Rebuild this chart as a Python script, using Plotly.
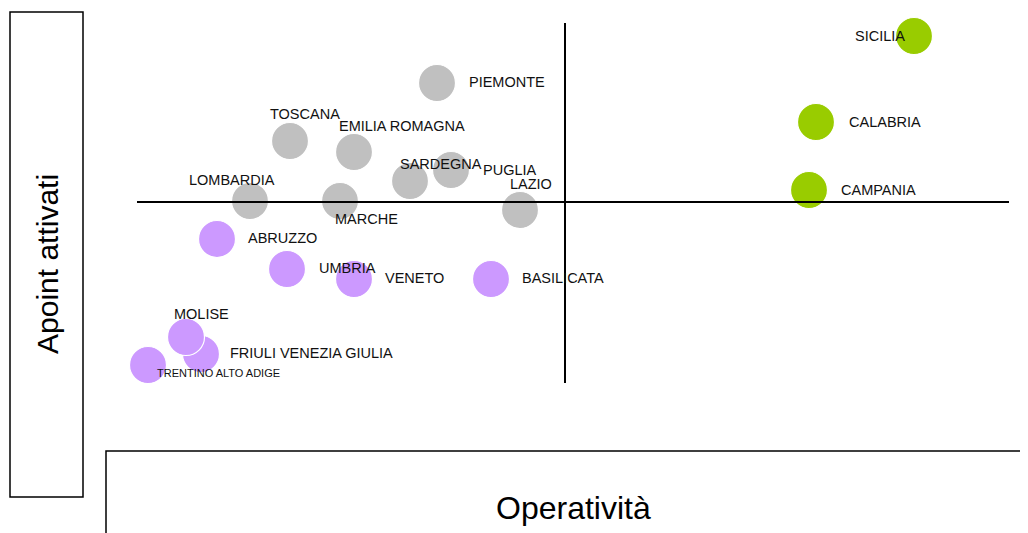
import plotly.graph_objects as go

# ---- data (arbitrary units, no axis scale shown) ----
regions = ["SICILIA", "CALABRIA", "CAMPANIA", "PIEMONTE", "TOSCANA", "EMILIA ROMAGNA",
           "SARDEGNA", "PUGLIA", "LAZIO", "LOMBARDIA", "MARCHE",
           "ABRUZZO", "UMBRIA", "VENETO", "BASILICATA", "FRIULI VENEZIA GIULIA",
           "MOLISE", "TRENTINO ALTO ADIGE"]
operativita = [91.4, 81.6, 80.9, 43.7, 29.0, 35.4, 41.0, 45.1, 52.0, 25.0, 34.0,
               21.7, 28.7, 35.4, 49.1, 20.1, 18.6, 14.8]
apoint_attivati = [49.7, 41.1, 34.3, 45.0, 39.2, 38.1, 35.2, 36.3, 32.3, 33.2, 33.2,
                   29.4, 26.4, 25.4, 25.4, 17.9, 19.6, 16.8]
groups = ["verde"] * 3 + ["grigio"] * 8 + ["viola"] * 7

# reference cross (quadrant dividers)
X_MID = 56.5
Y_MID = 33.1

# ---- styles ----
COLORS = {"verde": "#99cc00", "grigio": "#c0c0c0", "viola": "#cc99ff"}
LABEL_OFFSETS = {  # (dx, dy) in pixels from bubble centre to label left/middle
    "SICILIA": (-61, 0), "CALABRIA": (31, 0), "CAMPANIA": (30, 0),
    "PIEMONTE": (30, -1), "TOSCANA": (-22, -27), "EMILIA ROMAGNA": (-17, -26),
    "SARDEGNA": (-12, -17), "PUGLIA": (30, 0), "LAZIO": (-12, -26),
    "LOMBARDIA": (-63, -21), "MARCHE": (-7, 18), "ABRUZZO": (29, -1),
    "UMBRIA": (30, -1), "VENETO": (29, -1), "BASILICATA": (29, -1),
    "FRIULI VENEZIA GIULIA": (27, -1), "MOLISE": (-14, -23),
    "TRENTINO ALTO ADIGE": (7, 8),
}
SMALL_LABELS = {"TRENTINO ALTO ADIGE"}
FONT = "Liberation Sans, Arial, sans-serif"

# page is 1028x533; the browser body has an 8px margin
PAGE_W, PAGE_H, OFF = 1028, 533, 8
W, H = PAGE_W - OFF, PAGE_H - OFF

fig = go.Figure()

fig.add_trace(go.Scatter(
    x=operativita, y=apoint_attivati, mode="markers",
    marker=dict(size=37, color=[COLORS[g] for g in groups],
                line=dict(color="white", width=1.2), opacity=1),
    text=regions, hoverinfo="text", showlegend=False,
))

# quadrant lines (drawn over the bubbles, as in the original)
fig.add_shape(type="line", xref="x", yref="y", x0=13.7, x1=100.9, y0=Y_MID, y1=Y_MID,
              line=dict(color="black", width=2), layer="above")
fig.add_shape(type="line", xref="x", yref="y", x0=X_MID, x1=X_MID, y0=15.0, y1=51.0,
              line=dict(color="black", width=2), layer="above")

for name, xv, yv in zip(regions, operativita, apoint_attivati):
    dx, dy = LABEL_OFFSETS[name]
    fig.add_annotation(
        x=xv, y=yv, xref="x", yref="y", text=name, showarrow=False,
        xanchor="left", yanchor="middle", xshift=dx, yshift=-dy,
        font=dict(family=FONT, size=11 if name in SMALL_LABELS else 14.5, color="#111111"),
    )

# axis-title boxes (page-pixel helpers)
def px(xp):
    return (xp - OFF) / W

def py(yp):
    return 1 - (yp - OFF) / H

fig.add_shape(type="rect", xref="paper", yref="paper",
              x0=px(10), x1=px(83), y0=py(497), y1=py(12),
              line=dict(color="black", width=1.5), fillcolor="rgba(0,0,0,0)")
fig.add_shape(type="rect", xref="paper", yref="paper",
              x0=px(106), x1=px(1040), y0=py(545), y1=py(451),
              line=dict(color="black", width=1.5), fillcolor="rgba(0,0,0,0)")

fig.add_annotation(x=px(47), y=py(264), xref="paper", yref="paper", text="Apoint attivati",
                   showarrow=False, textangle=-90, xanchor="center", yanchor="middle",
                   font=dict(family=FONT, size=30, color="black"))
fig.add_annotation(x=px(573), y=py(508), xref="paper", yref="paper", text="Operatività",
                   showarrow=False, xanchor="center", yanchor="middle",
                   font=dict(family=FONT, size=32, color="black"))

fig.update_xaxes(range=[OFF / 10, PAGE_W / 10], visible=False, fixedrange=True)
fig.update_yaxes(range=[0, (PAGE_H - OFF) / 10], visible=False, fixedrange=True)
fig.update_layout(width=W, height=H, margin=dict(l=0, r=0, t=0, b=0),
                  plot_bgcolor="white", paper_bgcolor="white")

fig.write_html("out.html")
